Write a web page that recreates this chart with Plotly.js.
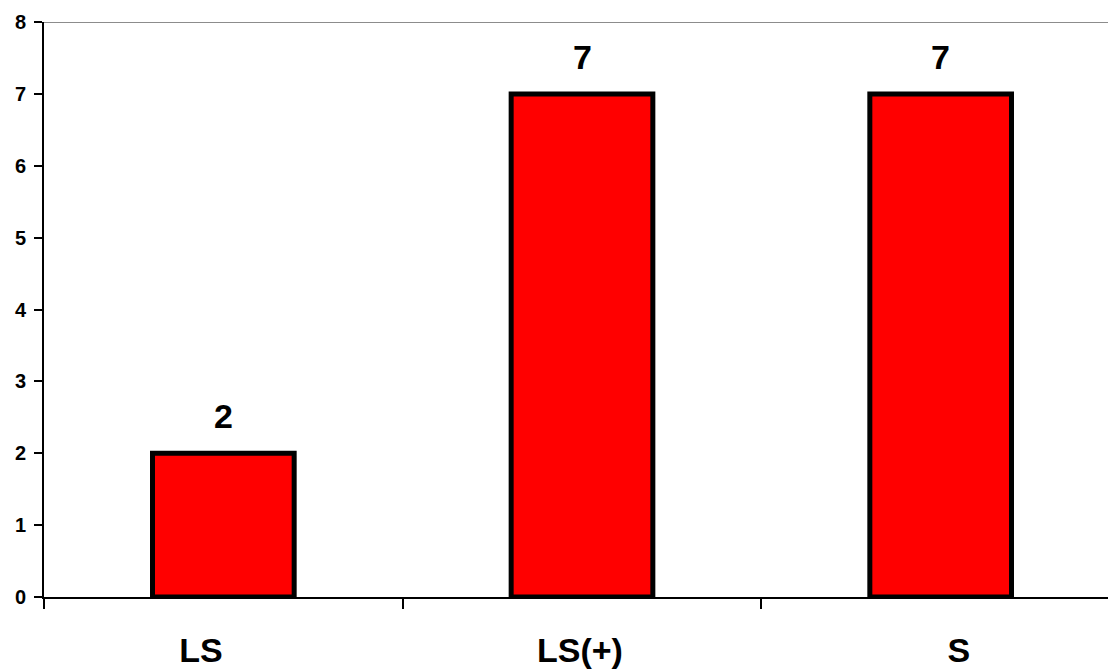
<!DOCTYPE html>
<html>
<head>
<meta charset="utf-8">
<script src="https://cdn.plot.ly/plotly-3.0.1.min.js"></script>
<style>
html, body { margin: 0; padding: 0; overflow: hidden; background: #fff; }
#chart { width: 1120px; height: 670px; }
</style>
</head>
<body>
<div id="chart"></div>
<script>
const categories = ["LS", "LS(+)", "S"];
const values = [2, 7, 7];
const yTicks = [0, 1, 2, 3, 4, 5, 6, 7, 8];

const FONT = "Arial, 'Liberation Sans', sans-serif";

const barTrace = {
  type: "bar",
  x: categories,
  y: values,
  width: 0.395,
  marker: { color: "#ff0000", line: { color: "#000000", width: 5 } },
  hoverinfo: "none"
};

// invisible companion trace carrying the category labels (spaced as in the original)
const labelTrace = {
  type: "scatter", mode: "markers",
  x: categories, y: values.map(() => null),
  xaxis: "x2", yaxis: "y",
  marker: { opacity: 0 }, hoverinfo: "none", showlegend: false
};

const annotations = categories.map((c, i) => ({
  x: c, y: values[i], xref: "x", yref: "y",
  text: "<b>" + values[i] + "</b>",
  showarrow: false, yanchor: "bottom", yshift: 16,
  font: { family: FONT, size: 34, color: "#000" }
}));

const layout = {
  width: 1120, height: 670,
  margin: { l: 44, r: 0, t: 22, b: 73 },
  paper_bgcolor: "#fff", plot_bgcolor: "#fff",
  showlegend: false,
  font: { family: FONT, color: "#000" },
  xaxis: {
    type: "category",
    range: [-0.5, 2.5],
    tickson: "boundaries",
    ticks: "outside", ticklen: 10, tickwidth: 2, tickcolor: "#000",
    showline: true, linecolor: "#000", linewidth: 2,
    showgrid: false, zeroline: false,
    showticklabels: false
  },
  xaxis2: {
    type: "category",
    overlaying: "x", side: "bottom",
    categoryorder: "array", categoryarray: categories,
    range: [-0.414, 2.425],
    ticks: "", showline: false, showgrid: false, zeroline: false,
    tickfont: { family: FONT, size: 34, color: "#000", weight: "bold" },
    ticklabelstandoff: 30
  },
  yaxis: {
    range: [0, 8],
    tickvals: yTicks,
    ticktext: yTicks.map(v => "<b>" + v + "</b>"),
    ticks: "outside", ticklen: 8, tickwidth: 2, tickcolor: "#000",
    showline: true, linecolor: "#000", linewidth: 2,
    showgrid: false, zeroline: false,
    tickfont: { family: FONT, size: 20, color: "#000" },
    ticklabelstandoff: 4
  },
  shapes: [{
    type: "line", xref: "paper", yref: "y", x0: 0, x1: 1, y0: 8, y1: 8,
    line: { color: "#8c8c8c", width: 2 }
  }],
  annotations: annotations
};

Plotly.newPlot("chart", [barTrace, labelTrace], layout, { displayModeBar: false, staticPlot: true });
</script>
</body>
</html>
